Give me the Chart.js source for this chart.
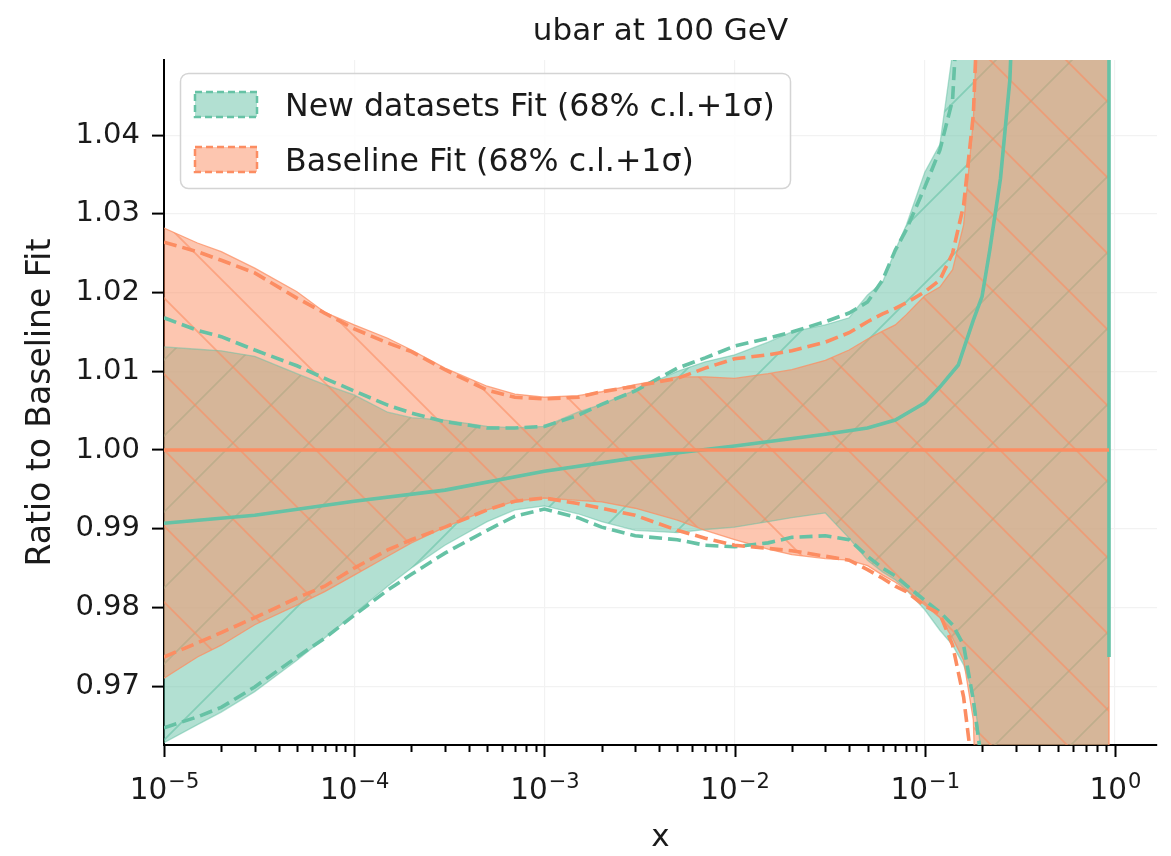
<!DOCTYPE html>
<html>
<head>
<meta charset="utf-8">
<title>ubar at 100 GeV</title>
<script src="https://cdn.jsdelivr.net/npm/chart.js@4.4.1/dist/chart.umd.min.js"></script>
<style>
  html, body { margin: 0; padding: 0; background: #fff; }
  canvas { display: block; }
</style>
</head>
<body>
<canvas id="ratio-chart" width="1171" height="856"></canvas>
<script>
// ------------------ values ------------------
const xGrid = [1e-5, 1.5e-5, 2e-5, 3e-5, 5e-5, 7e-5, 1e-4, 1.5e-4, 2e-4, 3e-4, 5e-4, 7e-4,
  1e-3, 1.5e-3, 2e-3, 3e-3, 5e-3, 7e-3, 1e-2, 1.5e-2, 2e-2, 3e-2, 4e-2, 5e-2, 6e-2, 7e-2, 8e-2,
  0.1, 0.12, 0.14, 0.16, 0.18, 0.2, 0.25, 0.93];

// New datasets fit: 68% c.l. band and 1 sigma (dashed)
const newUpper = [1.0131, 1.0128, 1.0126, 1.0119, 1.0097, 1.0083, 1.0070, 1.0048, 1.0041, 1.0038, 1.0030, 1.0028,
  1.0030, 1.0048, 1.0058, 1.0076, 1.0100, 1.0112, 1.0121, 1.0137, 1.0150, 1.0159, 1.0168, 1.0197, 1.0213, 1.0254, 1.0286,
  1.0353, 1.0388, 1.0505, 1.07, 1.07, 1.07, 1.07, 1.07];
const newLower = [0.9628, 0.9651, 0.9667, 0.9693, 0.9733, 0.9761, 0.9792, 0.9827, 0.9850, 0.9879, 0.9909, 0.9924,
  0.9929, 0.9919, 0.9909, 0.9898, 0.9895, 0.9899, 0.9902, 0.9909, 0.9914, 0.9920, 0.9888, 0.9860, 0.9845, 0.9835, 0.9822,
  0.9797, 0.9771, 0.9752, 0.9727, 0.9690, 0.9610, 0.93, 0.93];
const newSigmaUp = [1.0168, 1.0152, 1.0144, 1.0127, 1.0107, 1.0091, 1.0075, 1.0057, 1.0047, 1.0036, 1.0028, 1.0028,
  1.0030, 1.0044, 1.0058, 1.0075, 1.0104, 1.0117, 1.0132, 1.0142, 1.0150, 1.0163, 1.0174, 1.0188, 1.0216, 1.0254, 1.0280,
  1.0334, 1.0381, 1.0445, 1.07, 1.07, 1.07, 1.07, 1.07];
const newSigmaDown = [0.9647, 0.9661, 0.9673, 0.9699, 0.9737, 0.9761, 0.9790, 0.9822, 0.9842, 0.9869, 0.9898, 0.9916,
  0.9925, 0.9914, 0.9902, 0.9891, 0.9886, 0.9879, 0.9877, 0.9882, 0.9889, 0.9891, 0.9886, 0.9865, 0.9850, 0.9840, 0.9828,
  0.9809, 0.9794, 0.9778, 0.9752, 0.9682, 0.9600, 0.93, 0.93];

// Baseline fit
const baseUpper = [1.0282, 1.0263, 1.0252, 1.0231, 1.0201, 1.0175, 1.0159, 1.0142, 1.0127, 1.0104, 1.0081, 1.0071,
  1.0067, 1.0069, 1.0074, 1.0083, 1.0093, 1.0093, 1.0091, 1.0097, 1.0102, 1.0114, 1.0127, 1.0141, 1.0151, 1.0159, 1.0172,
  1.0196, 1.0207, 1.0229, 1.0286, 1.0419, 1.07, 1.07, 1.07];
const baseLower = [0.9710, 0.9737, 0.9752, 0.9778, 0.9803, 0.9820, 0.9841, 0.9865, 0.9882, 0.9902, 0.9924, 0.9935,
  0.9939, 0.9936, 0.9934, 0.9926, 0.9911, 0.9898, 0.9886, 0.9874, 0.9867, 0.9862, 0.9860, 0.9853, 0.9841, 0.9832, 0.9822,
  0.9803, 0.9787, 0.9761, 0.9733, 0.9657, 0.93, 0.93, 0.93];
const baseSigmaUp = [1.0264, 1.0252, 1.0241, 1.0225, 1.0193, 1.0174, 1.0154, 1.0136, 1.0125, 1.0102, 1.0076, 1.0067,
  1.0065, 1.0067, 1.0074, 1.0081, 1.0091, 1.0104, 1.0116, 1.0121, 1.0126, 1.0137, 1.0149, 1.0163, 1.0173, 1.0180, 1.0187,
  1.0201, 1.0216, 1.0250, 1.0311, 1.0426, 1.07, 1.07, 1.07];
const baseSigmaDown = [0.9737, 0.9755, 0.9768, 0.9787, 0.9812, 0.9827, 0.9850, 0.9873, 0.9886, 0.9902, 0.9924, 0.9935,
  0.9939, 0.9932, 0.9926, 0.9917, 0.9898, 0.9888, 0.9879, 0.9875, 0.9872, 0.9865, 0.9860, 0.9848, 0.9837, 0.9827, 0.9820,
  0.9802, 0.9792, 0.9752, 0.9686, 0.9585, 0.93, 0.93, 0.93];

// central values (ratio to baseline)
const newCentralX = [1e-5, 3e-5, 1e-4, 3e-4, 1e-3, 3e-3, 1e-2, 3e-2, 5e-2, 7e-2, 0.1, 0.12, 0.15, 0.18,
  0.2, 0.22, 0.25, 0.28, 0.3, 0.93, 0.93];
const newCentralY = [0.9907, 0.9917, 0.9935, 0.9949, 0.9973, 0.9990, 1.0005, 1.0020, 1.0028, 1.0038, 1.0060, 1.0080, 1.0108, 1.0165,
  1.0195, 1.0255, 1.0345, 1.0470, 1.0650, 1.0650, 0.9737];
const baseCentralX = [1e-5, 0.93];
const baseCentralY = [1.0, 1.0];
const baseEdgeX = [0.93, 0.93];
const baseEdgeY = [0.93, 1.07];

// axes
const xMin = 1e-5, xMax = 1.663;
const yMin = 0.96252, yMax = 1.04955;
const xMajorTicks = [1e-5, 1e-4, 1e-3, 1e-2, 1e-1, 1];
const xTickExp = ['\u22125', '\u22124', '\u22123', '\u22122', '\u22121', '0'];
const yTicks = [0.97, 0.98, 0.99, 1.00, 1.01, 1.02, 1.03, 1.04];
const legendLabels = ['New datasets Fit (68% c.l.+1\u03c3)', 'Baseline Fit (68% c.l.+1\u03c3)'];

const GREEN = '#66c2a5';
const ORANGE = '#fc8d62';
const FONT = '"DejaVu Sans", "Liberation Sans", sans-serif';

// minor ticks 2..9 x 10^n
const xMinorTicks = [];
for (let e = -5; e <= 0; e++) {
  for (let m = 2; m <= 9; m++) {
    const v = m * Math.pow(10, e);
    if (v <= xMax) xMinorTicks.push(v);
  }
}

function pts(xs, ys) {
  return xs.map((x, i) => ({ x: x, y: ys[i] }));
}

// hatched fill, like matplotlib's hatch='/' and '\\'
function makeHatch(fill, line, dir, off) {
  const S = 76;
  const c = document.createElement('canvas');
  c.width = S; c.height = S;
  const g = c.getContext('2d');
  g.fillStyle = fill;
  g.fillRect(0, 0, S, S);
  g.strokeStyle = line;
  g.lineWidth = 1.8;
  g.beginPath();
  for (let k = -2; k <= 2; k++) {
    const s = off + k * S;
    if (dir === '/') {
      g.moveTo(-5, s + 5); g.lineTo(s + 5, -5);
    } else {
      g.moveTo(-5, s - 5); g.lineTo(S + 5, S + 5 + s);
    }
  }
  g.stroke();
  return g.createPattern(c, 'repeat');
}

const ctx = document.getElementById('ratio-chart').getContext('2d');
const greenHatch = makeHatch('rgba(102,194,165,0.5)', 'rgba(102,194,165,0.6)', '/', 68);
const orangeHatch = makeHatch('rgba(252,141,98,0.5)', 'rgba(252,141,98,0.6)', '\\', 58);

function isMajor(v) {
  const l = Math.log10(v);
  return Math.abs(l - Math.round(l)) < 1e-6;
}

// ------------------ extra drawing: ticks, labels, title, legend ------------------
const decorPlugin = {
  id: 'decor',
  afterDraw(chart) {
    const c = chart.ctx;
    const xs = chart.scales.x;
    const area = chart.chartArea;
    c.save();
    // x tick marks
    c.strokeStyle = '#000';
    c.lineWidth = 2;
    c.beginPath();
    xMajorTicks.forEach(v => {
      const px = Math.round(xs.getPixelForValue(v)) + 0.5;
      c.moveTo(px, area.bottom); c.lineTo(px, area.bottom + 12);
    });
    xMinorTicks.forEach(v => {
      const px = Math.round(xs.getPixelForValue(v)) + 0.5;
      c.moveTo(px, area.bottom); c.lineTo(px, area.bottom + 7);
    });
    c.stroke();

    // x tick labels 10^n
    c.fillStyle = '#1a1a1a';
    c.textBaseline = 'alphabetic';
    c.textAlign = 'left';
    xMajorTicks.forEach((v, i) => {
      const px = xs.getPixelForValue(v);
      c.font = '29.5px ' + FONT;
      const wBase = c.measureText('10').width;
      c.font = '21px ' + FONT;
      const wExp = c.measureText(xTickExp[i]).width;
      const left = px - (wBase + wExp) / 2;
      c.font = '29.5px ' + FONT;
      c.fillText('10', left, 799);
      c.font = '21px ' + FONT;
      c.fillText(xTickExp[i], left + wBase + 1, 788);
    });

    // axis titles and title
    c.font = '31px ' + FONT;
    c.textAlign = 'center';
    c.fillText('x', (area.left + area.right) / 2, 846);
    c.save();
    c.translate(50, (area.top + area.bottom) / 2);
    c.rotate(-Math.PI / 2);
    c.font = '33px ' + FONT;
    c.fillText('Ratio to Baseline Fit', 0, 0);
    c.restore();
    c.font = '31px ' + FONT;
    c.fillText('ubar at 100 GeV', (area.left + area.right) / 2, 40);

    // legend
    const bx = 180.5, by = 73.5, bw = 610, bh = 115, r = 8;
    c.beginPath();
    c.moveTo(bx + r, by);
    c.arcTo(bx + bw, by, bx + bw, by + bh, r);
    c.arcTo(bx + bw, by + bh, bx, by + bh, r);
    c.arcTo(bx, by + bh, bx, by, r);
    c.arcTo(bx, by, bx + bw, by, r);
    c.closePath();
    c.fillStyle = 'rgba(255,255,255,0.8)';
    c.fill();
    c.strokeStyle = '#d4d4d4';
    c.lineWidth = 1.5;
    c.stroke();
    const fills = ['rgba(102,194,165,0.5)', 'rgba(252,141,98,0.5)'];
    const edges = [GREEN, ORANGE];
    legendLabels.forEach((txt, i) => {
      const py = 92 + i * 55;
      c.fillStyle = fills[i];
      c.fillRect(195, py, 62, 25);
      c.setLineDash([7, 4]);
      c.strokeStyle = edges[i];
      c.lineWidth = 2.5;
      c.strokeRect(195, py, 62, 25);
      c.setLineDash([]);
      c.fillStyle = '#1a1a1a';
      c.font = '31.6px ' + FONT;
      c.textAlign = 'left';
      c.fillText(txt, 285, py + 24);
    });
    c.restore();
  }
};

const bandLine = { pointRadius: 0, borderWidth: 1.3, tension: 0 };
const dashLine = { pointRadius: 0, borderWidth: 3.6, borderDash: [13, 6], fill: false };

new Chart(ctx, {
  type: 'line',
  data: {
    datasets: [
      { ...bandLine, data: pts(xGrid, baseUpper), borderColor: 'rgba(252,141,98,0.75)', backgroundColor: orangeHatch, fill: '+1', order: 9 },
      { ...bandLine, data: pts(xGrid, baseLower), borderColor: 'rgba(252,141,98,0.75)', fill: false, order: 9 },
      { ...bandLine, data: pts(xGrid, newUpper), borderColor: 'rgba(102,194,165,0.5)', backgroundColor: greenHatch, fill: '+1', order: 10 },
      { ...bandLine, data: pts(xGrid, newLower), borderColor: 'rgba(102,194,165,0.5)', fill: false, order: 10 },
      { ...dashLine, data: pts(xGrid, newSigmaUp), borderColor: GREEN, order: 5 },
      { ...dashLine, data: pts(xGrid, newSigmaDown), borderColor: GREEN, order: 5 },
      { ...dashLine, data: pts(xGrid, baseSigmaUp), borderColor: ORANGE, order: 4 },
      { ...dashLine, data: pts(xGrid, baseSigmaDown), borderColor: ORANGE, order: 4 },
      { data: pts(baseEdgeX, baseEdgeY), borderColor: 'rgba(252,141,98,0.8)', borderWidth: 1.5, pointRadius: 0, fill: false, order: 3 },
      { data: pts(newCentralX, newCentralY), borderColor: GREEN, borderWidth: 3.6, pointRadius: 0, fill: false, order: 1 },
      { data: pts(baseCentralX, baseCentralY), borderColor: ORANGE, borderWidth: 3.6, pointRadius: 0, fill: false, order: 0 }
    ]
  },
  options: {
    responsive: false,
    devicePixelRatio: 1,
    animation: false,
    events: [],
    layout: { padding: { top: 60, right: 14, left: 0, bottom: 0 } },
    plugins: {
      legend: { display: false },
      title: { display: false },
      tooltip: { enabled: false },
      filler: { drawTime: 'beforeDatasetsDraw' }
    },
    scales: {
      x: {
        type: 'logarithmic',
        min: xMin,
        max: xMax,
        afterBuildTicks: s => { s.ticks = xMajorTicks.concat(xMinorTicks).map(v => ({ value: v })); },
        afterFit: s => { s.height = 111; },
        ticks: { display: false },
        grid: {
          drawTicks: false,
          color: c => (c.tick && isMajor(c.tick.value)) ? '#f2f2f2' : 'rgba(0,0,0,0)',
          lineWidth: 1.2
        },
        border: { display: true, color: '#000', width: 2 }
      },
      y: {
        type: 'linear',
        min: yMin,
        max: yMax,
        afterBuildTicks: s => { s.ticks = yTicks.map(v => ({ value: v })); },
        afterFit: s => { s.width = 164; },
        ticks: {
          padding: 12,
          color: '#1a1a1a',
          font: { family: FONT, size: 29 },
          callback: v => v.toFixed(2)
        },
        grid: {
          color: '#f2f2f2',
          lineWidth: 1.2,
          drawTicks: true,
          tickLength: 12,
          tickColor: '#000',
          tickWidth: 2
        },
        border: { display: true, color: '#000', width: 2 }
      }
    }
  },
  plugins: [decorPlugin]
});
</script>
</body>
</html>
